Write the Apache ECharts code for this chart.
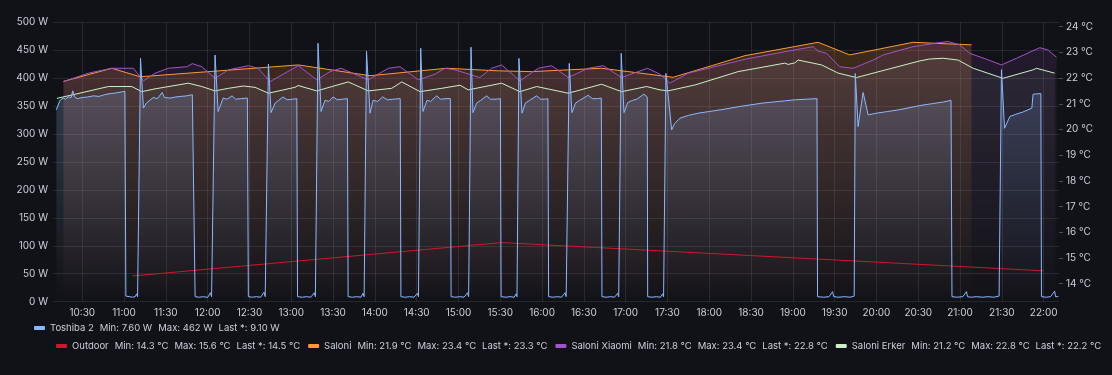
<!DOCTYPE html>
<html>
<head>
<meta charset="utf-8">
<script src="https://cdn.jsdelivr.net/npm/echarts@6/dist/echarts.min.js"></script>
<style>
html,body{margin:0;padding:0;background:#111217;}
#chart{width:1112px;height:375px;}
</style>
</head>
<body>
<div id="chart"></div>
<script>
// ---------- DATA (time = minutes since midnight) ----------
const timeTicks = [630,660,690,720,750,780,810,840,870,900,930,960,990,1020,1050,1080,1110,1140,1170,1200,1230,1260,1290,1320];
const tempTicks = [14,15,16,17,18,19,20,21,22,23,24];

const toshiba2 = [
[611.3,343],[612.5,346],[614.1,360],[616.3,364],[618,362],[620,366],[622,365],[623.2,377],[624.5,366],[626.3,363],[630,365],[634,366],[638,368],[642,367],[646,370],[650,372],[654,373],[658,375],[660.6,376],
[661.3,10],[662,8],[664,9],[666,8],[668,9],[669,14],[669.7,9],[670.5,10],
[671.8,435],[673.9,346],[676,355],[680.9,365],[684,363],[687.3,374],[689,365],[693,364],[697,366],[701,367],[705,368],[709,370],[710.3,371],
[711,9],[714,8],[717,9],[720,7.6],[722,16],[722.8,9],[724,10],
[725.3,441],[727.5,340],[731.1,364],[734,362],[737.5,368],[740,362],[744,363],[748.5,364],
[749.2,9],[752,8],[755,9],[758,8],[760.5,17],[761.3,9],[762.4,10],
[763.6,425],[765.5,338],[768.4,355],[771,360],[774.1,366],[777,361],[781,362],[784,363],
[784.5,9],[788,8],[791,9],[794,8],[796.5,16],[797.3,9],[798.3,10],
[799.2,462],[801.4,340],[804.2,360],[807,358],[810,366],[813,361],[817,362],[820.3,363],
[820.8,9],[824,8],[827,9],[830,8],[831.5,15],[832.3,9],[833.2,10],
[834,448],[836.5,337],[838.7,360],[842,358],[845.6,366],[849,361],[853,362],[858.2,363],
[858.7,9],[862,8],[865,9],[868,8],[870.5,15],[871.3,9],[872.3,10],
[872.9,453],[874.5,340],[877.4,360],[880,358],[884.4,368],[887,362],[891,363],[894.2,363],
[894.7,9],[898,8],[901,9],[904,8],[906.5,16],[907.3,9],[908.2,10],
[909,455],[910.4,338],[913,355],[916,360],[920.2,368],[923,362],[927,362],[930.1,363],
[930.6,9],[934,8],[937,9],[940,8],[941.3,14],[942,9],[942.8,10],
[943.4,435],[945.6,337],[948,355],[951,360],[956.1,368],[959,362],[962,362],[964.2,363],
[964.7,9],[968,8],[971,9],[974,8],[976.5,16],[977.3,9],[978.7,10],
[979.5,426],[981.4,338],[984,355],[987,360],[993.1,369],[996,363],[1000,363],[1002.5,364],
[1003,9],[1006,8],[1009,9],[1012,8],[1014.3,15],[1015,9],[1016.1,10],
[1016.8,444],[1018.8,338],[1021.5,356],[1025,360],[1028,362],[1033.1,371],[1035.5,366],
[1035.8,9],[1039,8],[1042,9],[1045,8],[1046.5,14],[1047.2,9],[1048.1,10],
[1048.9,408],[1053,307],[1055,318],[1058.9,328],[1065,333],[1072,337],[1080,340],[1088,343],[1095,346],[1102,349],[1110,352],[1118,355],[1126,357],[1134,359],[1142,361],[1149.8,362],[1157.3,363],
[1157.7,9],[1162,8],[1166,9],[1168.5,18],[1169.3,9],[1173,8],[1177,9],[1181,8],[1184,10],
[1184.8,408],[1186.8,313],[1190.4,374],[1194,334],[1200,337],[1208,340],[1216,343],[1224,347],[1232,351],[1240,354],[1248,357],[1253.5,360],
[1254.2,9],[1258,8],[1262,9],[1264.6,18],[1265.3,9],[1268,8],[1272,9],[1276,8],[1280,9],[1284,8],[1288,10],
[1289.7,415],[1291.9,310],[1295.7,331],[1300,335],[1305,339],[1311.5,346],[1312.4,371],[1318,372],
[1318.4,9],[1322,8],[1325,9],[1327.9,19],[1328.5,9],[1330.5,9.1]
];

const outdoor = [[666,14.3],[931,15.6],[1320,14.5]];

const saloni = [[616.5,21.87],[651.2,22.38],[671.5,22.05],[785.1,22.51],[836.5,22.09],[891.5,22.38],[928.6,22.28],[952.5,22.25],[1002.7,22.38],[1054.1,22.03],[1105.6,22.87],[1158.1,23.39],[1180.8,22.9],[1226.3,23.39],[1268.2,23.29]];

const saloniXiaomi = [
[616.5,21.86],[634.4,22.19],[651.2,22.38],[666.7,22.38],[673.9,21.89],[682.3,22.19],[691.8,22.38],[705.0,22.44],[709.0,22.56],[715.8,22.44],
[725.3,21.99],[734.9,22.32],[749.2,22.48],[756.2,22.38],[764.8,21.86],[773.2,22.12],[785.1,22.48],[798.3,21.93],[807.8,22.25],[815.7,22.38],
[835.3,21.93],[849.7,22.38],[858.0,22.44],[871.2,21.93],[883.2,22.15],[890.3,22.38],[897.5,22.32],[915.4,22.02],[923.8,22.38],[931.0,22.51],
[944.1,21.89],[957.3,22.38],[966.9,22.48],[978.8,22.02],[993.1,22.38],[1003.9,22.48],[1017.1,22.02],[1027.9,22.23],[1035.7,22.38],[1044.6,22.15],
[1051.7,21.80],[1064.9,22.19],[1105.6,22.73],[1136.6,23.05],[1154.5,23.22],[1158.1,23.05],[1164.2,22.96],[1173.7,22.44],[1183.2,22.38],[1197.6,22.70],
[1204.8,22.90],[1226.3,23.22],[1245.4,23.38],[1251.4,23.42],[1259.8,23.29],[1267.0,22.96],[1279.0,22.73],[1289.7,22.51],[1300.5,22.77],[1317.2,23.18],
[1323.2,23.09],[1329.2,22.81]
];

const saloniErker = [
[611.8,21.21],[624.9,21.37],[648.8,21.67],[665.6,21.67],[672.7,21.47],[682.3,21.58],[706.2,21.80],[715.8,21.67],[725.3,21.50],[734.9,21.60],
[745.6,21.69],[754.0,21.64],[763.6,21.41],[782.7,21.64],[784.9,21.71],[798.3,21.50],[820.9,21.85],[835.3,21.50],[852.1,21.60],[859.3,21.85],
[872.4,21.47],[888.0,21.60],[901.1,21.72],[907.0,21.54],[931.0,21.80],[944.1,21.47],[956.1,21.67],[978.8,21.41],[1002.7,21.76],[1017.1,21.47],
[1035.0,21.67],[1044.6,21.54],[1050.3,21.50],[1069.7,21.73],[1100.7,22.25],[1134.2,22.58],[1136.6,22.53],[1141.4,22.59],[1143.8,22.70],[1160.6,22.51],
[1172.6,22.19],[1185.7,22.02],[1231.3,22.67],[1238.2,22.74],[1247.8,22.77],[1258.6,22.70],[1269.4,22.38],[1290.8,21.99],[1312.4,22.32],[1314.8,22.38],
[1327.9,22.19]
];

const legendNames1 = ['Toshiba 2'];
const legendNames2 = ['Outdoor','Saloni','Saloni Xiaomi','Saloni Erker'];
const statMin  = {'Toshiba 2':'7.60 W','Outdoor':'14.3 °C','Saloni':'21.9 °C','Saloni Xiaomi':'21.8 °C','Saloni Erker':'21.2 °C'};
const statMax  = {'Toshiba 2':'462 W','Outdoor':'15.6 °C','Saloni':'23.4 °C','Saloni Xiaomi':'23.4 °C','Saloni Erker':'22.8 °C'};
const statLast = {'Toshiba 2':'9.10 W','Outdoor':'14.5 °C','Saloni':'23.3 °C','Saloni Xiaomi':'22.8 °C','Saloni Erker':'22.2 °C'};

// ---------- STYLE / LAYOUT ----------
const W = 1112, H = 375;
const GRID = {left: 53, right: 53, top: 22, bottom: 73.3};
const FONT = 'Inter, "Noto Sans", sans-serif';
const TXT = '#ccccdc';
const GRIDC = 'rgba(240,250,255,0.09)';
const colors = {
  'Toshiba 2': '#8AB8FF',
  'Outdoor': '#D0162A',
  'Saloni': '#FF9830',
  'Saloni Xiaomi': '#A352CC',
  'Saloni Erker': '#C8F2C2'
};
const fillAlpha = {'Toshiba 2':0.34,'Outdoor':0.2,'Saloni':0.3,'Saloni Xiaomi':0.2,'Saloni Erker':0.1};

function hexA(hex, a){
  const n = parseInt(hex.slice(1),16);
  return 'rgba(' + ((n>>16)&255) + ',' + ((n>>8)&255) + ',' + (n&255) + ',' + a + ')';
}
function grad(name){
  const c = colors[name];
  return new echarts.graphic.LinearGradient(0, GRID.top, 0, H - GRID.bottom, [
    {offset:0, color:hexA(c, fillAlpha[name])},
    {offset:1, color:hexA(c, 0)}
  ], true);
}
function fmtTime(m){
  const h = Math.floor(m/60), mm = Math.round(m - h*60);
  return h + ':' + String(mm).padStart(2,'0');
}
function line(name, data, yAxisIndex){
  return {
    name, type:'line', yAxisIndex, data,
    showSymbol:false, symbol:'none', color: colors[name],
    lineStyle:{width:1, color: colors[name]},
    areaStyle:{color: grad(name)},
    emphasis:{disabled:true}
  };
}
const LFS = 9.5;
const legendRich = {
  n: {color: TXT, fontSize: LFS, fontFamily: FONT},
  s: {color: TXT, fontSize: LFS, fontFamily: FONT, padding:[0,0,0,6]}
};
function legendFmt(name){
  return '{n|' + name + '}{s|Min: ' + statMin[name] + '}{s|Max: ' + statMax[name] + '}{s|Last *: ' + statLast[name] + '}';
}

const chart = echarts.init(document.getElementById('chart'), null, {renderer:'canvas', width: W, height: H});
chart.setOption({
  backgroundColor: '#111217',
  animation: false,
  textStyle: {fontFamily: FONT},
  grid: {left: GRID.left, right: GRID.right, top: GRID.top, bottom: GRID.bottom, containLabel:false, outerBoundsMode:'none'},
  legend: [
    {data: legendNames1, left: 34, top: 321, width: 1070, padding: 0, itemGap: 8, itemWidth: 11, itemHeight: 4, icon: 'roundRect',
     selectedMode: false, formatter: legendFmt, textStyle: {color: TXT, fontSize: LFS, lineHeight: 14, rich: legendRich}},
    {data: legendNames2, left: 56, top: 339, width: 1050, padding: 0, itemGap: 8, itemWidth: 11, itemHeight: 4, icon: 'roundRect',
     selectedMode: false, formatter: legendFmt, textStyle: {color: TXT, fontSize: LFS, lineHeight: 14, rich: legendRich}}
  ],
  xAxis: {
    type: 'value', min: 609, max: 1331,
    axisLine: {show:false},
    axisTick: {show:false, customValues: timeTicks},
    axisLabel: {customValues: timeTicks, formatter: fmtTime, color: TXT, fontSize: 10, margin: 6, fontFamily: FONT},
    splitLine: {show:true, lineStyle:{color: GRIDC, width:1}}
  },
  yAxis: [
    {type:'value', min:0, max:500, interval:50, position:'left',
     axisLine:{show:false}, axisTick:{show:false},
     axisLabel:{formatter:'{value} W', color: TXT, fontSize:10, margin:5, fontFamily: FONT},
     splitLine:{show:true, lineStyle:{color: GRIDC, width:1}}},
    {type:'value', min:13.3, max:24.18, position:'right',
     axisLine:{show:false},
     axisTick:{show:true, length:4, customValues: tempTicks, lineStyle:{color:'rgba(240,250,255,0.25)'}},
     axisLabel:{customValues: tempTicks, formatter:'{value} °C', color: TXT, fontSize:10, margin:7, fontFamily: FONT},
     splitLine:{show:false}}
  ],
  series: [
    line('Outdoor', outdoor, 1),
    line('Saloni', saloni, 1),
    line('Saloni Xiaomi', saloniXiaomi, 1),
    line('Saloni Erker', saloniErker, 1),
    line('Toshiba 2', toshiba2, 0)
  ]
});
</script>
</body>
</html>
